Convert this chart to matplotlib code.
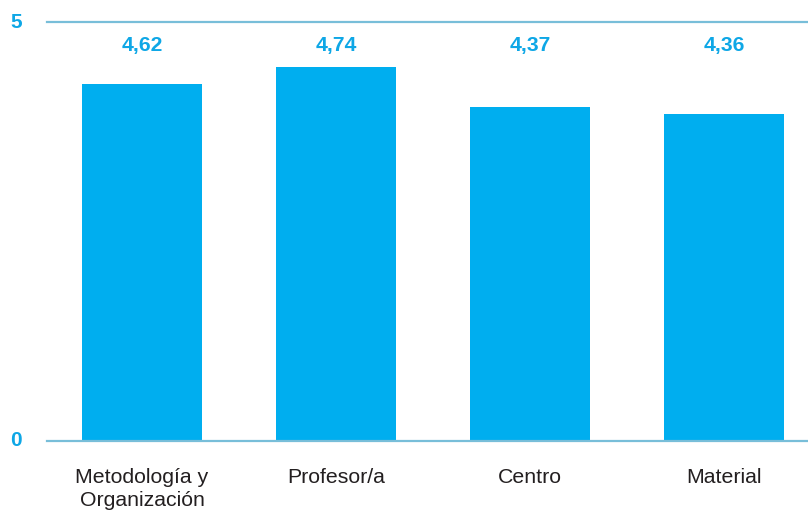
import matplotlib
matplotlib.use("Agg")
import matplotlib.pyplot as plt

categories = ["Metodología y\nOrganización", "Profesor/a", "Centro", "Material"]
bar_heights = [4.26, 4.46, 3.99, 3.90]
value_labels = ["4,62", "4,74", "4,37", "4,36"]
y_ticks = [0, 5]
y_tick_labels = ["0", "5"]

bar_color = "#00AEEF"
text_blue = "#0EA7E6"
line_color = "#78BED9"

plt.rcParams['font.family'] = ['Liberation Sans', 'DejaVu Sans']

fig = plt.figure(figsize=(8.08, 5.11), dpi=100)
ax = fig.add_axes([47/808, (511-440.7)/511, 1 - 47/808, (440.7-22)/511])

x = list(range(len(categories)))
ax.bar(x, bar_heights, width=0.62, color=bar_color, zorder=2)
ax.set_xlim(-0.49, 3.433)
ax.set_ylim(0, 5)

for yv in y_ticks:
    ax.axhline(yv, color=line_color, lw=1.6, zorder=3, clip_on=False)

for xi, lab in zip(x, value_labels):
    ax.text(xi, 0.945, lab, transform=ax.get_xaxis_transform(), ha='center', va='center',
            color=text_blue, fontsize=15.2, fontweight='bold')

for yv, lab in zip(y_ticks, y_tick_labels):
    ax.text(-0.0405, yv, lab, transform=ax.get_yaxis_transform(), ha='center', va='center',
            color=text_blue, fontsize=15, fontweight='bold')

for s in ax.spines.values():
    s.set_visible(False)
ax.set_yticks([])
ax.set_xticks(x)
ax.set_xticklabels(categories, fontsize=15.3, color="#231F20", linespacing=1.22)
ax.tick_params(axis='x', length=0, pad=20)

fig.savefig("out.png", dpi=100)
